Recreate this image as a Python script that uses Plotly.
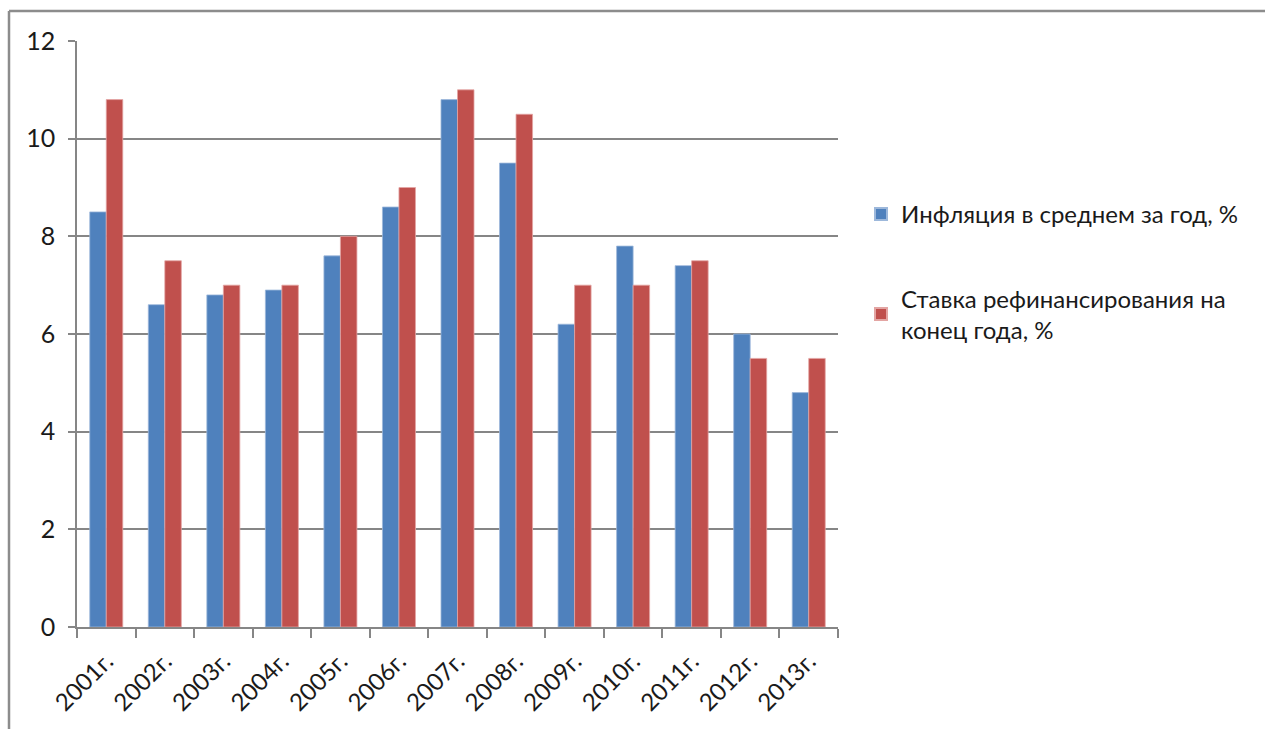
import plotly.graph_objects as go

years = ["2001г.", "2002г.", "2003г.", "2004г.", "2005г.", "2006г.", "2007г.",
         "2008г.", "2009г.", "2010г.", "2011г.", "2012г.", "2013г."]
inflation = [8.5, 6.6, 6.8, 6.9, 7.6, 8.6, 10.8, 9.5, 6.2, 7.8, 7.4, 6.0, 4.8]
refinancing = [10.8, 7.5, 7.0, 7.0, 8.0, 9.0, 11.0, 10.5, 7.0, 7.0, 7.5, 5.5, 5.5]
name_infl = "Инфляция в среднем за год, %"
name_ref = "Ставка рефинансирования на<br>конец года, %"

W, H = 1265, 729
L, R, T, B = 77, 838, 41, 627

FONT = "Lato, 'Open Sans', sans-serif"

fig = go.Figure()
fig.add_trace(go.Bar(x=years, y=inflation, name=name_infl, legendgroup="a",
                     marker=dict(color="#4F81BD", line=dict(color="#9DB8DB", width=0.8))))
fig.add_trace(go.Bar(x=years, y=refinancing, name=name_ref, legendgroup="b",
                     marker=dict(color="#C0504D", line=dict(color="#E3A5A3", width=0.8))))

def px(x):
    return (x - L) / (R - L)

def py(y):
    return (B - y) / (B - T)

fig.update_layout(
    width=W, height=H,
    margin=dict(l=L, r=W - R, t=T, b=H - B, pad=0, autoexpand=False),
    paper_bgcolor="white", plot_bgcolor="white",
    barmode="group", bargap=0.436, bargroupgap=0,
    font=dict(family=FONT, size=24, color="#1a1a1a"),
    showlegend=True,
    legend=dict(x=px(861), y=py(192), xanchor="left", yanchor="top",
                tracegroupgap=50, font=dict(size=24, color="#1a1a1a"),
                bgcolor="rgba(0,0,0,0)", itemsizing="constant"),
    xaxis=dict(showline=True, linecolor="#868686", linewidth=1.5, automargin=False,
               ticks="outside", ticklen=9, tickcolor="#868686", tickwidth=1.5,
               tickson="boundaries", tickangle=-45, showgrid=False,
               tickfont=dict(size=24, color="#1a1a1a"), ticklabelstandoff=9),
    yaxis=dict(range=[0, 12], dtick=2, showline=True, linecolor="#868686", linewidth=1.5,
               automargin=False,
               ticks="outside", ticklen=7, tickcolor="#868686", tickwidth=1.5,
               showgrid=True, gridcolor="#868686", gridwidth=1.5,
               zeroline=False, tickfont=dict(size=25, color="#1a1a1a"),
               ticklabelstandoff=8),
    shapes=[
        dict(type="line", xref="paper", yref="paper", x0=px(9), x1=px(1265), y0=py(11), y1=py(11),
             line=dict(color="#8c8c8c", width=2.5)),
        dict(type="line", xref="paper", yref="paper", x0=px(9), x1=px(9), y0=py(11), y1=py(729),
             line=dict(color="#8c8c8c", width=2.5)),
    ],
)

fig.write_html("out.html")
